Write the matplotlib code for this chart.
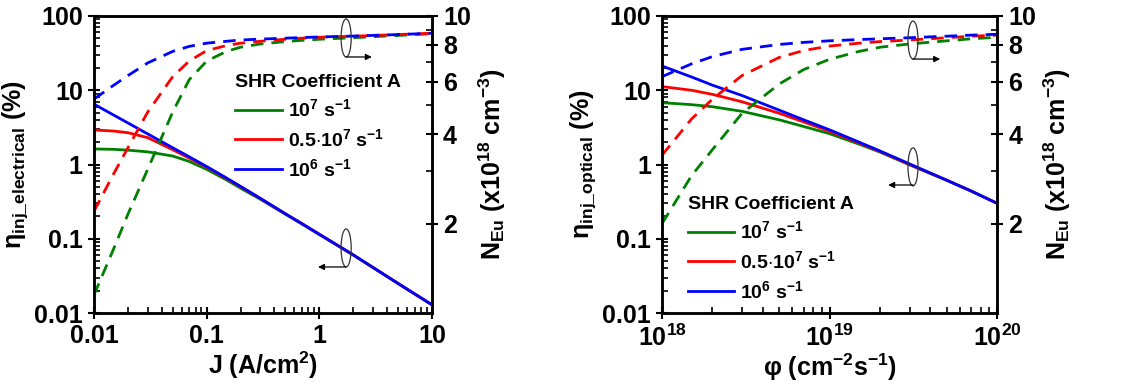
import matplotlib
matplotlib.use("Agg")
import matplotlib.pyplot as plt
from matplotlib.patches import Ellipse
from matplotlib.ticker import FixedLocator, NullFormatter

plt.rcParams['font.family'] = ['Liberation Sans', 'DejaVu Sans']
plt.rcParams['font.weight'] = 'bold'
plt.rcParams['mathtext.fontset'] = 'custom'
plt.rcParams['mathtext.rm'] = 'Liberation Sans:bold'
plt.rcParams['mathtext.bf'] = 'Liberation Sans:bold'
plt.rcParams['mathtext.it'] = 'Liberation Sans:bold'
plt.rcParams['mathtext.default'] = 'bf'

# ---- left panel: electrical injection ----
J = [0.01, 0.015, 0.02, 0.03, 0.05, 0.07, 0.1, 0.15, 0.2, 0.3, 0.5, 0.7, 1, 2, 5, 10]
eta_el_A1e7 = [1.62, 1.60, 1.56, 1.48, 1.30, 1.10, 0.86, 0.62, 0.48, 0.34, 0.214, 0.158, 0.114, 0.0605, 0.025, 0.0129]
eta_el_A5e6 = [2.92, 2.82, 2.68, 2.30, 1.58, 1.22, 0.92, 0.648, 0.503, 0.348, 0.217, 0.16, 0.115, 0.0606, 0.025, 0.0129]
eta_el_A1e6 = [6.5, 4.62, 3.63, 2.58, 1.68, 1.27, 0.94, 0.658, 0.507, 0.350, 0.217, 0.16, 0.115, 0.0606, 0.025, 0.0129]
neu_el_A1e7 = [1.15, 1.65, 2.15, 3.05, 4.75, 6.1, 7.05, 7.6, 7.85, 8.05, 8.2, 8.28, 8.35, 8.45, 8.6, 8.72]
neu_el_A5e6 = [2.2, 2.95, 3.6, 4.75, 6.25, 7.05, 7.65, 7.95, 8.1, 8.22, 8.35, 8.42, 8.48, 8.55, 8.66, 8.75]
neu_el_A1e6 = [5.25, 5.85, 6.3, 6.95, 7.6, 7.9, 8.1, 8.22, 8.3, 8.36, 8.42, 8.46, 8.5, 8.56, 8.66, 8.75]

# ---- right panel: optical injection ----
phi = [1e18, 1.5e18, 2e18, 3e18, 5e18, 7e18, 1e19, 1.5e19, 2e19, 3e19, 5e19, 7e19, 1e20]
eta_op_A1e7 = [6.8, 6.4, 6.0, 5.2, 4.0, 3.25, 2.6, 1.88, 1.47, 0.99, 0.612, 0.438, 0.30]
eta_op_A5e6 = [11.2, 10.0, 8.8, 7.0, 4.9, 3.75, 2.8, 1.95, 1.50, 1.0, 0.615, 0.44, 0.30]
eta_op_A1e6 = [21.2, 15.1, 11.7, 8.5, 5.4, 4.0, 2.93, 2.0, 1.52, 1.02, 0.615, 0.44, 0.30]
neu_op_A1e7 = [2.0, 2.9, 3.55, 4.7, 5.9, 6.6, 7.15, 7.6, 7.85, 8.05, 8.25, 8.38, 8.48]
neu_op_A5e6 = [3.4, 4.5, 5.25, 6.3, 7.25, 7.65, 7.92, 8.1, 8.2, 8.3, 8.45, 8.55, 8.62]
neu_op_A1e6 = [6.25, 6.9, 7.3, 7.72, 8.02, 8.15, 8.25, 8.33, 8.38, 8.45, 8.55, 8.62, 8.68]

colors = ['#008000', '#ff0000', '#0000ff']
labels = ['$10^{7}$ s$^{-1}$', '0.5$\\cdot$$10^{7}$ s$^{-1}$', '$10^{6}$ s$^{-1}$']

fig = plt.figure(figsize=(11.35, 3.92), dpi=100)
ax1 = fig.add_axes([0.0828, 0.2015, 0.2978, 0.7577])
ax2 = fig.add_axes([0.5833, 0.2015, 0.2952, 0.7577])

lw = 2.0
dash = (4.5, 2.9)
fs = 18


def style(ax, tw):
    for a in (ax, tw):
        for s in a.spines.values():
            s.set_linewidth(1.8)
    ax.tick_params(which='major', direction='inout', length=9, width=1.5, labelsize=fs, top=False, right=False)
    ax.tick_params(which='minor', direction='in', length=4.5, width=1.2, top=False, right=False)
    tw.set_yscale('log')
    tw.set_ylim(1, 10)
    tw.yaxis.set_major_locator(FixedLocator([2, 4, 6, 8, 10]))
    tw.yaxis.set_minor_locator(FixedLocator([3, 5, 7, 9]))
    tw.set_yticklabels(['2', '4', '6', '8', '10'])
    tw.yaxis.set_minor_formatter(NullFormatter())
    tw.tick_params(which='major', direction='inout', length=9, width=1.5, labelsize=fs)
    tw.tick_params(which='minor', direction='in', length=4.5, width=1.2)
    tw.set_ylabel('N$_{Eu}$ (x10$^{18}$ cm$^{-3}$)', fontsize=fs, fontweight='bold', labelpad=4)


def markers(tw, up, down):
    # ellipses with arrows pointing to the axis each set belongs to
    for (cx, cy, ay, ax_end) in [up, down]:
        e = Ellipse((cx, cy), 0.03, 0.128, transform=tw.transAxes, fill=False,
                    edgecolor='#333333', linewidth=0.9, zorder=5)
        tw.add_patch(e)
        tw.annotate('', xy=(ax_end, ay), xytext=(cx, ay), xycoords='axes fraction',
                    arrowprops=dict(arrowstyle='-|>', color='black', lw=0.9,
                                    mutation_scale=9, shrinkA=0, shrinkB=0), zorder=5)


def add_legend(ax, handles, anchor):
    ax.legend(handles=handles, title='SHR Coefficient A', loc='upper left',
              bbox_to_anchor=anchor, frameon=False, fontsize=14,
              title_fontproperties={'size': 14, 'weight': 'bold'},
              handlelength=2.4, handletextpad=0.3, labelspacing=0.4,
              borderpad=0, borderaxespad=0, alignment='left')


# left panel
ax1.set_xscale('log')
ax1.set_yscale('log')
h = []
for y, c, l in zip([eta_el_A1e7, eta_el_A5e6, eta_el_A1e6], colors, labels):
    ln, = ax1.plot(J, y, color=c, lw=lw, label=l)
    h.append(ln)
ax1.set_xlim(0.01, 10)
ax1.set_ylim(0.01, 100)
ax1.set_xticks([0.01, 0.1, 1, 10], ['0.01', '0.1', '1', '10'])
ax1.set_yticks([0.01, 0.1, 1, 10, 100], ['0.01', '0.1', '1', '10', '100'])
ax1.set_xlabel('J (A/cm$^2$)', fontsize=fs, fontweight='bold', labelpad=1)
ax1.set_ylabel('$\\mathrm{\\eta}_{inj\\_electrical}$ (%)', fontsize=fs, fontweight='bold', labelpad=3)
tw1 = ax1.twinx()
for y, c in zip([neu_el_A1e7, neu_el_A5e6, neu_el_A1e6], colors):
    tw1.plot(J, y, color=c, lw=lw, dashes=dash)
style(ax1, tw1)
markers(tw1, (0.746, 0.926, 0.862, 0.822), (0.746, 0.219, 0.155, 0.663))
add_legend(ax1, h, (0.418, 0.805))

# right panel
ax2.set_xscale('log')
ax2.set_yscale('log')
h = []
for y, c, l in zip([eta_op_A1e7, eta_op_A5e6, eta_op_A1e6], colors, labels):
    ln, = ax2.plot(phi, y, color=c, lw=lw, label=l)
    h.append(ln)
ax2.set_xlim(1e18, 1e20)
ax2.set_ylim(0.01, 100)
ax2.set_xticks([1e18, 1e19, 1e20], ['$10^{18}$', '$10^{19}$', '$10^{20}$'])
ax2.set_yticks([0.01, 0.1, 1, 10, 100], ['0.01', '0.1', '1', '10', '100'])
ax2.set_xlabel('$\\mathrm{\\varphi}$ (cm$^{-2}$s$^{-1}$)', fontsize=fs, fontweight='bold', labelpad=1)
ax2.set_ylabel('$\\mathrm{\\eta}_{inj\\_optical}$ (%)', fontsize=fs, fontweight='bold', labelpad=3)
tw2 = ax2.twinx()
for y, c in zip([neu_op_A1e7, neu_op_A5e6, neu_op_A1e6], colors):
    tw2.plot(phi, y, color=c, lw=lw, dashes=dash)
style(ax2, tw2)
markers(tw2, (0.749, 0.919, 0.855, 0.830), (0.749, 0.492, 0.431, 0.675))
add_legend(ax2, h, (0.076, 0.395))

fig.savefig('out.png', dpi=100)
